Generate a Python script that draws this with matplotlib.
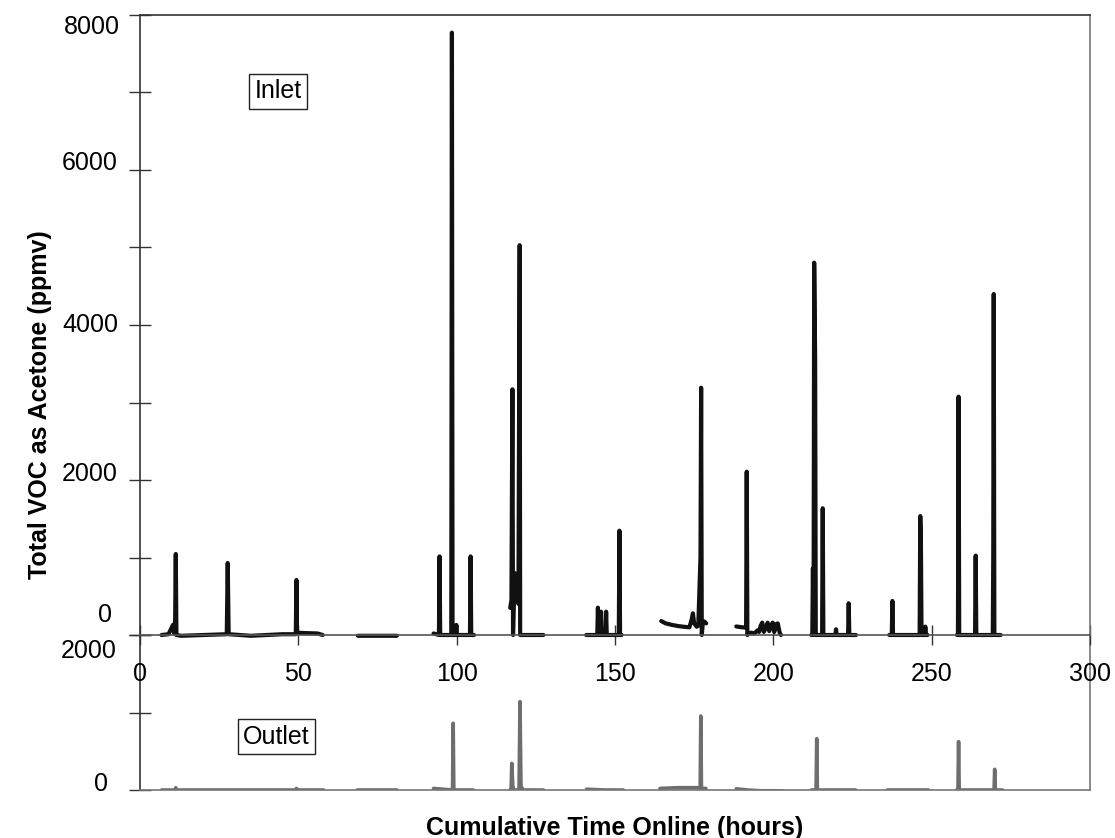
import numpy as np
import matplotlib
matplotlib.use("Agg")
import matplotlib.pyplot as plt
from matplotlib.transforms import ScaledTranslation

plt.rcParams['font.family'] = ['Liberation Sans', 'DejaVu Sans']

nan = np.nan

# ---------------- data (hours, ppmv) ----------------
inlet_t = [
    6.8, 9.0, 10.4, 10.8, 11.1, 11.3, 11.5, 13, 20, 27.4, 27.7, 28.0, 35, 45, 49.2, 49.4, 49.6, 52, 56, 57.7, nan,
    68.8, 75, 81.1, nan,
    92.7, 94.4, 94.6, 94.8, 96, 98.3, 98.5, 98.7, 99.7, 99.9, 100.1, 102, 104.2, 104.4, 104.6, 105.5, nan,
    116.9, 117.3, 117.6, 117.8, 118.3, 118.8, 119.5, 119.75, 119.9, 120.05, 120.3, 124, 127.4, nan,
    140.9, 143, 144.4, 144.6, 144.8, 145.4, 145.6, 145.8, 147.0, 147.2, 147.4, 149, 151.2, 151.4, 151.6, 152.1, nan,
    164.6, 166, 168, 170, 172, 173.5, 174.2, 174.6, 175.0, 175.8, 176.3, 177.0, 177.2, 177.4, 177.8, 178.3, 178.8, nan,
    188.3, 190, 191.4, 191.6, 191.8, 192.0, 193, 194, 195, 195.5, 196.0, 196.5, 197.0, 197.7, 198.2, 198.7,
    199.3, 199.8, 200.3, 200.9, 201.4, 202.0, 202.4, nan,
    212.0, 212.3, 212.5, 212.7, 212.9, 213.2, 213.4, 215.4, 215.6, 215.8, 219.6, 219.8, 220.0, 223.6, 223.8,
    224.0, 226.1, nan,
    236.6, 237.4, 237.6, 237.8, 240, 246.2, 246.4, 246.6, 246.8, 247.8, 248.0, 248.2, 248.7, nan,
    258.0, 258.3, 258.5, 258.7, 261, 263.7, 263.9, 264.1, 267, 269.3, 269.45, 269.6, 269.8, 271.8,
]
inlet_v = [
    0, 10, 130, 20, 200, 1045, 0, -10, 0, 10, 929, 10, -10, 10, 10, 710, 30, 25, 20, 0, nan,
    -10, -10, -10, nan,
    20, 0, 1014, 0, 0, 0, 7772, 0, 0, 130, 0, 0, 0, 1014, 0, 0, nan,
    350, 450, 3170, 0, 800, 500, 400, 3530, 5030, 0, 0, 0, 0, nan,
    0, 0, 0, 353, 0, 0, 301, 0, 0, 301, 0, 0, 0, 1346, 0, 0, nan,
    180, 150, 130, 115, 105, 99, 200, 280, 150, 107, 120, 1010, 3191, 0, 180, 172, 150, nan,
    110, 100, 95, 2107, 0, 20, 30, 20, 60, 40, 120, 160, 40, 100, 159, 50,
    130, 159, 40, 140, 150, 30, 0, nan,
    0, 0, 860, 0, 4804, 3591, 0, 0, 1635, 0, 0, 73, 0, 0, 409,
    0, 0, nan,
    0, 0, 439, 0, 0, 0, 1535, 1226, 0, 0, 108, 0, 0, nan,
    0, 0, 3075, 0, 0, 0, 1024, 0, 0, 0, 1032, 4400, 0, 0,
]

outlet_t = [
    6.8, 11.1, 11.3, 11.5, 30, 49.2, 49.4, 49.6, 58, nan,
    68.6, 81.1, nan,
    92.7, 98.7, 98.9, 99.1, 105.3, nan,
    116.9, 117.2, 117.4, 117.7, 118.0, 119.7, 120.0, 120.3, 121, 127.4, nan,
    141.0, 147, 152.6, nan,
    164.2, 170, 176.9, 177.1, 177.3, 178.7, nan,
    188.3, 192, 196, 202.8, nan,
    212.0, 213.5, 213.7, 213.9, 220, 226.0, nan,
    236.0, 242, 249.0, nan,
    257.9, 258.3, 258.5, 258.7, 269.7, 269.9, 270.1, 272.4,
]
outlet_v = [
    0, 0, 30, 0, 0, 0, 20, 0, 0, nan,
    0, 0, nan,
    20, 0, 861, 0, 0, nan,
    0, 0, 344, 60, 0, 0, 1140, 50, 0, 0, nan,
    10, 0, 0, nan,
    20, 30, 30, 955, 20, 20, nan,
    15, 0, -10, -10, nan,
    0, 0, 662, 0, 0, 0, nan,
    0, 0, 0, nan,
    0, 0, 624, 0, 0, 267, 0, 0,
]

x_ticks = [0, 50, 100, 150, 200, 250, 300]
inlet_tick_labels = ['8000', '6000', '4000', '2000', '0']
inlet_tick_values = [8000, 6000, 4000, 2000, 0]
outlet_tick_labels = ['2000', '0']
outlet_tick_values = [2000, 0]

# ---------------- figure ----------------
W, H, DPI = 1115, 838, 100
fig = plt.figure(figsize=(W / DPI, H / DPI), dpi=DPI)

left, right = 140 / W, 1090 / W
y_top, y_mid, y_bot = 15, 635, 790
ax_out = fig.add_axes([left, 1 - y_bot / H, right - left, (y_bot - y_mid) / H])
ax_in = fig.add_axes([left, 1 - y_mid / H, right - left, (y_mid - y_top) / H])
for a in (ax_in, ax_out):
    a.patch.set_alpha(0)
    a.set_xlim(0, 300)

ax_in.set_ylim(0, 8000)
ax_out.set_ylim(0, 2000)

ax_in.plot(inlet_t, inlet_v, color='#111111', lw=3.0, solid_joinstyle='round', solid_capstyle='round', clip_on=False)
ax_out.plot(outlet_t, outlet_v, color='#6e6e6e', lw=2.6, solid_joinstyle='round', solid_capstyle='round')

spine_dark = '#333333'
spine_gray = '#777777'
ax_in.spines['left'].set_color(spine_dark)
ax_in.spines['top'].set_color(spine_dark)
ax_in.spines['bottom'].set_color('#555555')
ax_in.spines['right'].set_color(spine_gray)
for s in ax_in.spines.values():
    s.set_linewidth(1.2)
ax_out.spines['top'].set_visible(False)
ax_out.spines['left'].set_color(spine_dark)
ax_out.spines['bottom'].set_color(spine_gray)
ax_out.spines['right'].set_color(spine_gray)
for s in ax_out.spines.values():
    s.set_linewidth(1.2)

# x ticks on inlet baseline
ax_in.set_xticks(x_ticks)
ax_in.set_xticklabels([str(v) for v in x_ticks])
ax_in.tick_params(axis='x', direction='inout', length=15, width=1, color=spine_dark,
                  labelsize=18, pad=12)
ax_out.set_xticks([])

# y ticks: marks every 1000, labels placed separately
ax_in.set_yticks(np.arange(0, 8001, 1000))
ax_in.set_yticklabels([])
ax_in.tick_params(axis='y', direction='inout', length=16, width=1, color=spine_dark)
ax_out.set_yticks([0, 1000, 2000])
ax_out.set_yticklabels([])
ax_out.tick_params(axis='y', direction='inout', length=16, width=1, color=spine_dark)

# offset (pixels, +down) of each label from its tick, as in the source chart
in_dy = [12, -7, 0, -6, -20]
in_dx = [-20, -22, -22, -22, -28]
out_dy = [16, -6]
out_dx = [-23, -32]
for v, lab, dy, dx in zip(inlet_tick_values, inlet_tick_labels, in_dy, in_dx):
    tr = ax_in.get_yaxis_transform() + ScaledTranslation(dx / DPI, -dy / DPI, fig.dpi_scale_trans)
    ax_in.text(0, v, lab, transform=tr, ha='right', va='center', fontsize=18, clip_on=False)
for v, lab, dy, dx in zip(outlet_tick_values, outlet_tick_labels, out_dy, out_dx):
    tr = ax_out.get_yaxis_transform() + ScaledTranslation(dx / DPI, -dy / DPI, fig.dpi_scale_trans)
    ax_out.text(0, v, lab, transform=tr, ha='right', va='center', fontsize=18, clip_on=False)

# series labels
box = dict(boxstyle='square,pad=0.22', fc='white', ec='#222222', lw=1)
ax_in.text(43.6, 7019, 'Inlet', ha='center', va='center', fontsize=18, bbox=box)
ax_out.text(43.1, 684, 'Outlet', ha='center', va='center', fontsize=18, bbox=box)

# axis titles
fig.text(40 / W, 1 - 405 / H, 'Total VOC as Acetone (ppmv)', rotation=90, ha='center', va='center',
         fontsize=18, fontweight='bold')
fig.text(615 / W, 1 - 828 / H, 'Cumulative Time Online (hours)', ha='center', va='center',
         fontsize=18, fontweight='bold')

ax_in.set_zorder(3)
ax_out.set_zorder(2)

fig.savefig('out.png', dpi=DPI)
